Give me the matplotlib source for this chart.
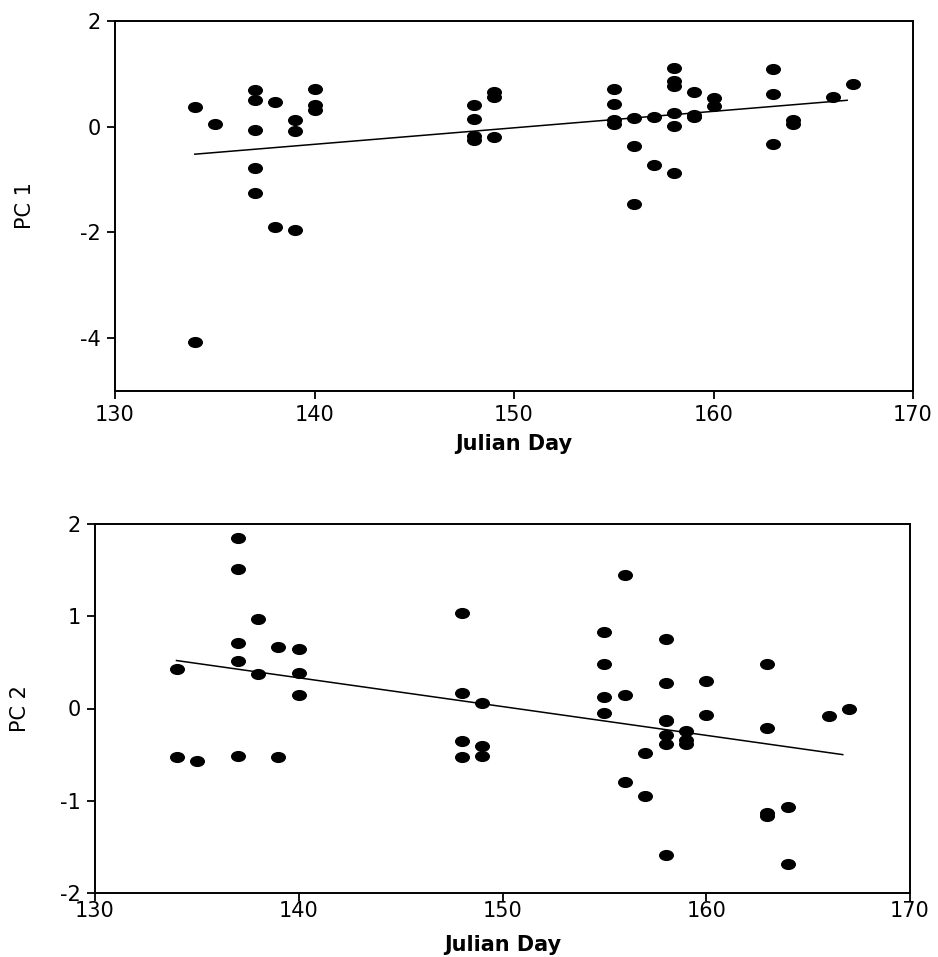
import numpy as np
import matplotlib
matplotlib.use('Agg')
import matplotlib.pyplot as plt
from matplotlib.markers import MarkerStyle
from matplotlib.transforms import Affine2D

# values
day1 = [134, 134, 135, 137, 137, 137, 137, 137, 138, 138, 139, 139, 139,
        140, 140, 140, 148, 148, 148, 148, 149, 149, 149, 155, 155, 155, 155,
        156, 156, 156, 157, 157, 158, 158, 158, 158, 158, 158, 159, 159, 159,
        160, 160, 163, 163, 163, 164, 164, 166, 167]
pc1 = [0.37, -4.08, 0.06, 0.69, 0.51, -0.07, -0.78, -1.25, 0.47, -1.89, 0.13,
       -0.08, -1.96, 0.71, 0.41, 0.32, 0.42, 0.14, -0.17, -0.25, 0.65, 0.57,
       -0.19, 0.71, 0.43, 0.13, 0.05, 0.16, -0.37, -1.47, 0.19, -0.72, 1.11,
       0.87, 0.77, 0.26, 0.02, -0.87, 0.66, 0.23, 0.18, 0.55, 0.40, 1.10, 0.62,
       -0.33, 0.13, 0.06, 0.57, 0.80]

day2 = [134, 134, 135, 137, 137, 137, 137, 137, 138, 138, 139, 139, 140, 140,
        140, 148, 148, 148, 148, 149, 149, 149, 155, 155, 155, 155, 156, 156,
        156, 157, 157, 158, 158, 158, 158, 158, 158, 158, 159, 159, 159, 160,
        160, 163, 163, 163, 163, 164, 164, 166, 167]
pc2 = [0.43, -0.53, -0.57, 1.85, 1.51, 0.71, 0.52, -0.52, 0.97, 0.37, 0.67,
       -0.53, 0.64, 0.38, 0.15, 1.03, 0.17, -0.35, -0.53, 0.06, -0.41, -0.52,
       0.83, 0.48, 0.12, -0.05, 1.45, 0.15, -0.80, -0.48, -0.95, 0.75, 0.28,
       -0.13, -0.29, -0.39, -1.59, -0.14, -0.24, -0.34, -0.39, 0.30, -0.07,
       0.48, -0.21, -1.13, -1.17, -1.07, -1.69, -0.08, 0.00]

# fitted lines (end points as drawn)
fit_x1 = [134, 166.7]
fit_y1 = [-0.52, 0.50]
fit_x2 = [134, 166.7]
fit_y2 = [0.52, -0.50]

plt.rcParams['font.family'] = ['DejaVu Sans']
plt.rcParams['axes.unicode_minus'] = False

fig = plt.figure(figsize=(9.38, 9.57), dpi=100)
W, H = 938, 957

dot = MarkerStyle('o', transform=Affine2D().scale(1.4, 1.0))


def setup(ax, ylim, yticks, ylab, ylab_x):
    ax.set_xlim(130, 170)
    ax.set_ylim(*ylim)
    ax.set_xticks([130, 140, 150, 160, 170])
    ax.set_yticks(yticks)
    ax.tick_params(direction='out', length=6, width=1.3, labelsize=15, pad=4)
    for s in ax.spines.values():
        s.set_linewidth(1.4)
    ax.set_xlabel('Julian Day', fontsize=15, fontweight='bold')
    ax.set_ylabel(ylab, fontsize=15)
    ax.yaxis.set_label_coords(ylab_x, 0.5)
    ax.xaxis.set_label_coords(0.5, -0.115)


# top panel
ax1 = fig.add_axes([115 / W, 1 - 391 / H, (913 - 115) / W, (391 - 21) / H])
ax1.plot(day1, pc1, linestyle='none', marker=dot, markersize=7, color='black')
ax1.plot(fit_x1, fit_y1, color='black', linewidth=1.1)
setup(ax1, (-5, 2), [-4, -2, 0, 2], 'PC 1', -0.10)

# bottom panel
ax2 = fig.add_axes([95 / W, 1 - 893 / H, (910 - 95) / W, (893 - 524) / H])
ax2.plot(day2, pc2, linestyle='none', marker=dot, markersize=7, color='black')
ax2.plot(fit_x2, fit_y2, color='black', linewidth=1.1)
setup(ax2, (-2, 2), [-2, -1, 0, 1, 2], 'PC 2', -0.08)
ax2.tick_params(axis='x', pad=0)

fig.savefig('out.png', dpi=100)
